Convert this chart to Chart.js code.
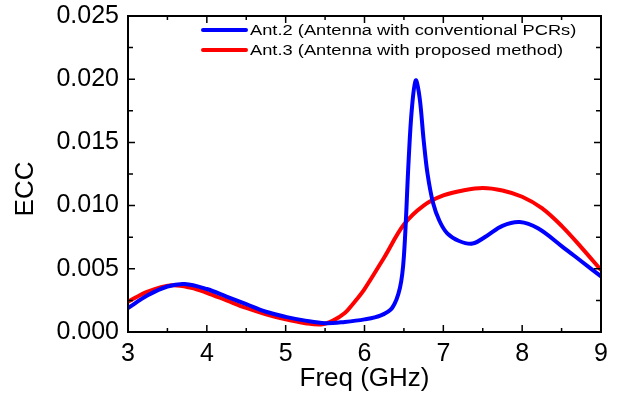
<!DOCTYPE html>
<html lang="en">
<head>
    <meta charset="UTF-8">
    <title>ECC vs Frequency</title>
    <script src="https://cdn.jsdelivr.net/npm/chart.js"></script>
    <style>
        html, body { margin: 0; padding: 0; background: #fff; }
    </style>
</head>
<body>
    <canvas id="eccChart" width="617" height="399"></canvas>

    <script>
        // Ant.2 - conventional PCRs (blue)
        const freqAnt2 = [3.0, 3.25, 3.5, 3.72, 4.0, 4.25, 4.5, 4.75, 5.0, 5.25, 5.5, 5.75, 6.0, 6.2, 6.35, 6.45, 6.5, 6.56, 6.6, 6.65, 6.7, 6.75, 6.8, 6.87, 6.95, 7.05, 7.2, 7.37, 7.55, 7.75, 7.97, 8.2, 8.5, 8.75, 9.0];
        const eccAnt2 = [0.0019, 0.0029, 0.0036, 0.0038, 0.0034, 0.0028, 0.0022, 0.0016, 0.0012, 0.0009, 0.0007, 0.0008, 0.0010, 0.0013, 0.0019, 0.0035, 0.0060, 0.0136, 0.0176, 0.0199, 0.0185, 0.0152, 0.0125, 0.0102, 0.0088, 0.0078, 0.0072, 0.0070, 0.0076, 0.0084, 0.0087, 0.0082, 0.0068, 0.0056, 0.0044];

        // Ant.3 - proposed method (red)
        const freqAnt3 = [3.0, 3.25, 3.55, 3.8, 4.0, 4.25, 4.5, 4.75, 5.0, 5.25, 5.45, 5.6, 5.75, 5.85, 6.0, 6.25, 6.5, 6.75, 7.0, 7.25, 7.5, 7.75, 8.0, 8.25, 8.5, 8.75, 9.0];
        const eccAnt3 = [0.0024, 0.0032, 0.0037, 0.0035, 0.0031, 0.0025, 0.0019, 0.0014, 0.0010, 0.0007, 0.0006, 0.0009, 0.0015, 0.0022, 0.0034, 0.0059, 0.0085, 0.0100, 0.0108, 0.0112, 0.0114, 0.0112, 0.0107, 0.0098, 0.0084, 0.0067, 0.0049];

        const seriesLabels = ['Ant.2 (Antenna with conventional PCRs)', 'Ant.3 (Antenna with proposed method)'];
        const xTicks = [3, 4, 5, 6, 7, 8, 9];
        const yTicks = [0.000, 0.005, 0.010, 0.015, 0.020, 0.025];
        const xTitle = 'Freq (GHz)';
        const yTitle = 'ECC';

        const toPoints = (xs, ys) => xs.map((x, i) => ({ x: x, y: ys[i] }));

        const fontFamily = 'Liberation Sans, Arial, sans-serif';
        const tickFont = { family: fontFamily, size: 25 };
        const titleFont = { family: fontFamily, size: 26 };

        // box frame with inward major/minor ticks on all four sides
        const framePlugin = {
            id: 'frame',
            afterDraw(chart) {
                const { ctx, chartArea: a, scales: { x, y } } = chart;
                ctx.save();
                ctx.strokeStyle = '#000';
                ctx.lineWidth = 1.5;
                ctx.beginPath();
                xTicks.forEach((v, i) => {
                    const px = x.getPixelForValue(v);
                    ctx.moveTo(px, a.bottom); ctx.lineTo(px, a.bottom - 7);
                    ctx.moveTo(px, a.top); ctx.lineTo(px, a.top + 7);
                    if (i < xTicks.length - 1) {
                        const mx = x.getPixelForValue((v + xTicks[i + 1]) / 2);
                        ctx.moveTo(mx, a.bottom); ctx.lineTo(mx, a.bottom - 4);
                        ctx.moveTo(mx, a.top); ctx.lineTo(mx, a.top + 4);
                    }
                });
                yTicks.forEach((v, i) => {
                    const py = y.getPixelForValue(v);
                    ctx.moveTo(a.left, py); ctx.lineTo(a.left + 7, py);
                    ctx.moveTo(a.right, py); ctx.lineTo(a.right - 7, py);
                    if (i < yTicks.length - 1) {
                        const my = y.getPixelForValue((v + yTicks[i + 1]) / 2);
                        ctx.moveTo(a.left, my); ctx.lineTo(a.left + 5, my);
                        ctx.moveTo(a.right, my); ctx.lineTo(a.right - 5, my);
                    }
                });
                ctx.stroke();
                ctx.lineWidth = 2;
                ctx.strokeRect(a.left, a.top, a.right - a.left, a.bottom - a.top);

                // y axis title, sits a bit below the middle like the original
                ctx.fillStyle = '#000';
                ctx.font = '26px ' + fontFamily;
                ctx.textAlign = 'center';
                ctx.textBaseline = 'middle';
                ctx.translate(25, 189);
                ctx.rotate(-Math.PI / 2);
                ctx.fillText(yTitle, 0, 1);
                ctx.restore();
            }
        };

        // legend drawn inside the plot, top right
        const legendPlugin = {
            id: 'insideLegend',
            afterDraw(chart) {
                const { ctx } = chart;
                ctx.save();
                ctx.font = '15.5px ' + fontFamily;
                ctx.textBaseline = 'middle';
                ctx.fillStyle = '#000';
                chart.data.datasets.forEach((ds, i) => {
                    const ly = 30 + i * 20;
                    ctx.strokeStyle = ds.borderColor;
                    ctx.lineWidth = 4;
                    ctx.lineCap = 'round';
                    ctx.beginPath();
                    ctx.moveTo(203, ly);
                    ctx.lineTo(246, ly);
                    ctx.stroke();
                    ctx.save();
                    ctx.translate(250, ly + 1);
                    ctx.scale(1.18, 1);
                    ctx.fillText(ds.label, 0, 0);
                    ctx.restore();
                });
                ctx.restore();
            }
        };

        const ctx = document.getElementById('eccChart').getContext('2d');

        const chart = new Chart(ctx, {
            type: 'line',
            data: {
                datasets: [{
                    label: seriesLabels[0],
                    data: toPoints(freqAnt2, eccAnt2),
                    borderColor: '#0000ff',
                    borderWidth: 4,
                    pointRadius: 0,
                    tension: 0.35,
                    fill: false,
                }, {
                    label: seriesLabels[1],
                    data: toPoints(freqAnt3, eccAnt3),
                    borderColor: '#ff0000',
                    borderWidth: 4,
                    pointRadius: 0,
                    tension: 0.35,
                    fill: false,
                }]
            },
            options: {
                responsive: false,
                animation: false,
                events: [],
                layout: { padding: { top: 16, right: 16, left: 0, bottom: 0 } },
                plugins: {
                    legend: { display: false },
                    tooltip: { enabled: false }
                },
                scales: {
                    x: {
                        type: 'linear',
                        min: 3,
                        max: 9,
                        afterFit: (s) => { s.height = 67; s.paddingLeft = 0; s.paddingRight = 0; },
                        afterBuildTicks: (s) => { s.ticks = xTicks.map(v => ({ value: v })); },
                        grid: { display: false, drawTicks: false },
                        border: { display: false },
                        ticks: { color: '#000', font: tickFont, padding: 7, maxRotation: 0 },
                        title: { display: true, text: xTitle, color: '#000', font: titleFont, padding: { top: 0, bottom: 5 } }
                    },
                    y: {
                        min: 0,
                        max: 0.025,
                        afterFit: (s) => { s.width = 128; s.paddingTop = 0; s.paddingBottom = 0; },
                        afterBuildTicks: (s) => { s.ticks = yTicks.map(v => ({ value: v })); },
                        grid: { display: false, drawTicks: false },
                        border: { display: false },
                        ticks: { color: '#000', font: tickFont, padding: 9, callback: (v) => v.toFixed(3) },
                        title: { display: false }
                    }
                }
            },
            plugins: [framePlugin, legendPlugin]
        });
    </script>
</body>
</html>
